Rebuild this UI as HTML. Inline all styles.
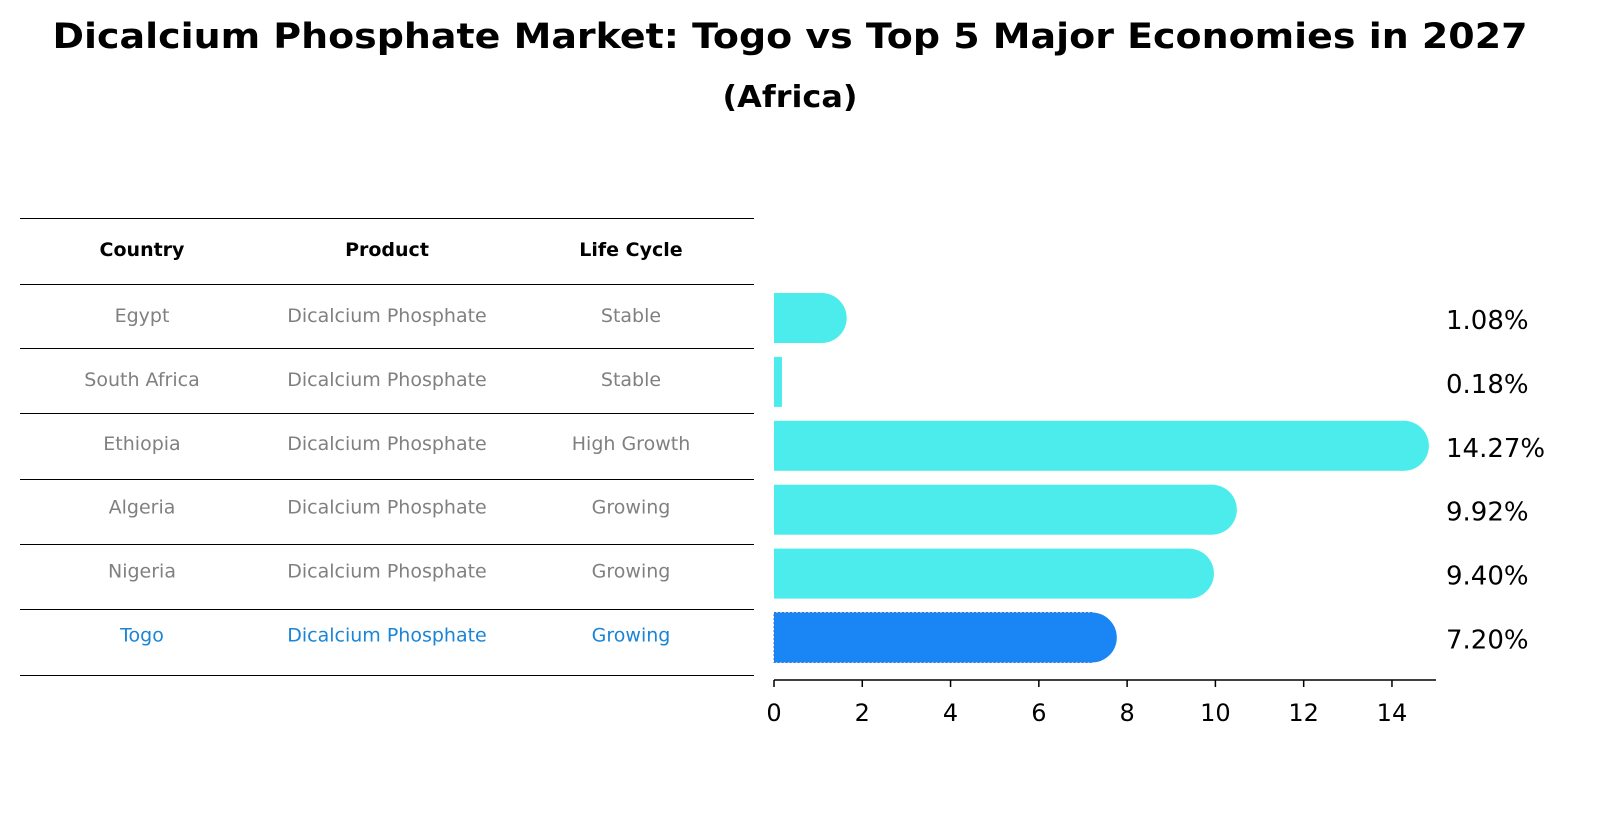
<!DOCTYPE html>
<html><head><meta charset="utf-8"><style>
body{margin:0;background:#fff;font-family:"Liberation Sans","DejaVu Sans",sans-serif}
</style></head><body>
<svg width="1604" height="823" xmlns="http://www.w3.org/2000/svg" font-family="DejaVu Sans, Liberation Sans, sans-serif">
<text x="790" y="48" text-anchor="middle" font-size="35" font-weight="bold" textLength="1475" lengthAdjust="spacingAndGlyphs">Dicalcium Phosphate Market: Togo vs Top 5 Major Economies in 2027</text>
<text x="790" y="107" text-anchor="middle" font-size="30" font-weight="bold" textLength="135" lengthAdjust="spacingAndGlyphs">(Africa)</text>
<g id="table"></g>
<g id="chart"></g>
</svg>
<script>
const countries=["Egypt","South Africa","Ethiopia","Algeria","Nigeria","Togo"];
const products=["Dicalcium Phosphate","Dicalcium Phosphate","Dicalcium Phosphate","Dicalcium Phosphate","Dicalcium Phosphate","Dicalcium Phosphate"];
const cycles=["Stable","Stable","High Growth","Growing","Growing","Growing"];
const values=[1.08,0.18,14.27,9.92,9.40,7.20];
const ticks=[0,2,4,6,8,10,12,14];
const NS="http://www.w3.org/2000/svg";
function mk(p,t,a){const e=document.createElementNS(NS,t);for(const k in a)e.setAttribute(k,a[k]);p.appendChild(e);return e;}
const x=v=>774+v*44.14;
const yc=i=>318+i*63.9;
const tb=document.getElementById('table');
const lines=[218,284,348,413,479,544,609,675];
lines.forEach(y=>{const l=mk(tb,'line',{x1:20,x2:754,y1:y+0.5,y2:y+0.5,stroke:'#000','stroke-width':1});

});
const cx=[142,387,631];
["Country","Product","Life Cycle"].forEach((h,j)=>{const t=mk(tb,'text',{x:cx[j],y:256,'text-anchor':'middle','font-size':19,'font-weight':'bold'});t.textContent=h;

});
countries.forEach((c,i)=>{const col=c==="Togo"?'#1a85d6':'#808080';
[c,products[i],cycles[i]].forEach((v,j)=>{const t=mk(tb,'text',{x:cx[j],y:yc(i)+4,'text-anchor':'middle','font-size':19,fill:col});t.textContent=v;

});});
const ch=document.getElementById('chart');
values.forEach((v,i)=>{const togo=countries[i]==="Togo";const col=togo?'#1a85f5':'#4beceb';const y=yc(i);
const r=mk(ch,'rect',{x:774,y:y-25,width:x(v)-774,height:50,fill:col});
if(togo){r.setAttribute('stroke','#3a6fd0');r.setAttribute('stroke-dasharray','2,2');r.setAttribute('stroke-width','1');}


if(v>0.5){const c=mk(ch,'circle',{cx:x(v),cy:y,r:25,fill:col});

}
const t=mk(ch,'text',{x:1446,y:y+11,'font-size':26});t.textContent=v.toFixed(2)+'%';

});
const ax=mk(ch,'line',{x1:774,x2:1436,y1:680,y2:680,stroke:'#000','stroke-width':1.5});


ticks.forEach(v=>{const l=mk(ch,'line',{x1:x(v),x2:x(v),y1:680,y2:687,stroke:'#000','stroke-width':1.5});


const t=mk(ch,'text',{x:x(v),y:721,'text-anchor':'middle','font-size':24});t.textContent=v;

});
</script>
</body></html>
